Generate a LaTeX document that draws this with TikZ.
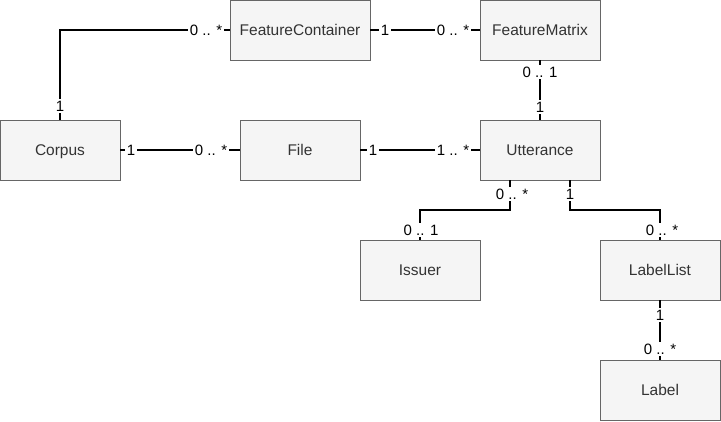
\documentclass[tikz,border=0pt]{standalone}
\usepackage{fontspec}
\setmainfont{Liberation Sans}
\definecolor{boxfill}{HTML}{F5F5F5}
\definecolor{boxline}{HTML}{666666}
\definecolor{boxtext}{HTML}{333333}
\begin{document}
\begin{tikzpicture}[x=1pt,y=-1pt,
  cls/.style={draw=boxline, line width=1pt, fill=boxfill, text=boxtext,
    minimum width=120pt, minimum height=60pt, inner sep=0pt, outer sep=0pt,
    text height=11.1pt, text depth=0pt,
    font=\fontsize{15.5}{18}\selectfont},
  assoc/.style={draw=black, line width=1.8pt},
  mult/.style={fill=white, inner sep=1.5pt, text=black,
    font=\fontsize{15}{18}\selectfont}]
\useasboundingbox (0,0) rectangle (721,421);
\fill[white] (0,0) rectangle (721,421);
% classes
\node[cls, minimum width=140pt] (fc) at (300,30) {FeatureContainer};
\node[cls] (fm) at (540,30) {FeatureMatrix};
\node[cls] (corpus) at (60,150) {Corpus};
\node[cls] (file) at (300,150) {File};
\node[cls] (utt) at (540,150) {Utterance};
\node[cls] (issuer) at (420,270) {Issuer};
\node[cls] (ll) at (660,270) {LabelList};
\node[cls] (label) at (660,390) {Label};
% connectors
\coordinate (ua) at (510,180);
\coordinate (ub) at (570,180);
\draw[assoc] (corpus.north) |- (fc.west);
\draw[assoc] (fc.east) -- (fm.west);
\draw[assoc] (fm.south) -- (utt.north);
\draw[assoc] (corpus.east) -- (file.west);
\draw[assoc] (file.east) -- (utt.west);
\draw[assoc] (ua) -- ++(0,30) -| (issuer.north);
\draw[assoc] (ub) -- ++(0,30) -| (ll.north);
\draw[assoc] (ll.south) -- (label.north);
% multiplicities
\node[mult] (l1) at (60,106) {1};
\node[mult] (l2) at (206,30) {0 .. *};
\node[mult] (l3) at (385,30) {1};
\node[mult] (l4) at (453,30) {0 .. *};
\node[mult] (l5) at (540,72) {0 .. 1};
\node[mult] (l6) at (540,107) {1};
\node[mult] (l7) at (131,150) {1};
\node[mult] (l8) at (211,150) {0 .. *};
\node[mult] (l9) at (373,150) {1};
\node[mult] (l10) at (453,150) {1 .. *};
\node[mult] (l11) at (512,194) {0 .. *};
\node[mult] (l12) at (570,194) {1};
\node[mult] (l13) at (421,230) {0 .. 1};
\node[mult] (l14) at (662,230) {0 .. *};
\node[mult] (l15) at (660,315) {1};
\node[mult] (l16) at (660,349) {0 .. *};
\end{tikzpicture}
\end{document}
